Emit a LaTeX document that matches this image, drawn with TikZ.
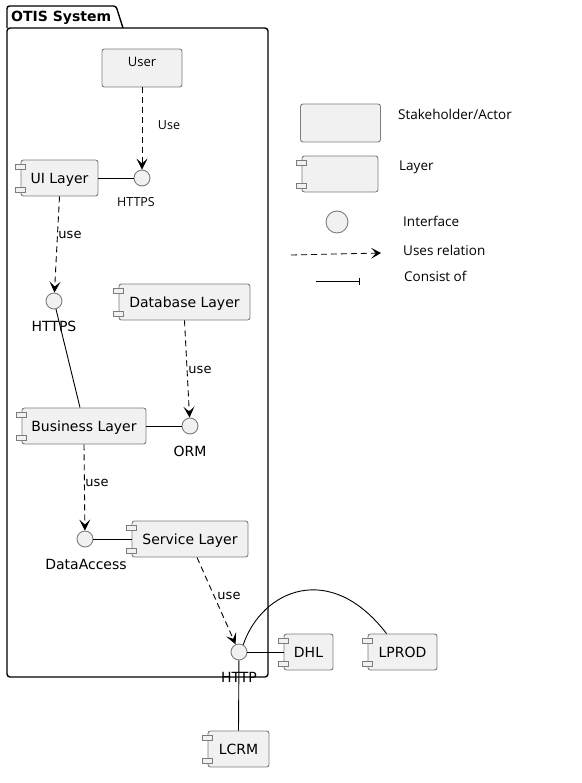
\documentclass[tikz,border=0pt]{standalone}
\usepackage{fontspec}
\setmainfont{DejaVu Sans}
\newfontfamily\legfont{Open Sans}
\usetikzlibrary{arrows.meta,calc}
\definecolor{compfill}{HTML}{F1F1F1}
\definecolor{compdraw}{HTML}{7C7C7C}
\tikzset{
  comp/.style={draw=compdraw, fill=compfill, rounded corners=2.5, line width=0.9, inner sep=0,
    font=\fontsize{14}{16}\selectfont, text height=10.2, text depth=0},
  iface/.style={circle, draw=compdraw, fill=compfill, minimum size=16, inner sep=0, line width=0.9},
  uses/.style={dash pattern=on 6 off 4, line width=0.9, -{Stealth[length=11,width=11,inset=5]}},
  link/.style={line width=0.9},
  lbl/.style={font=\fontsize{13}{15}\selectfont, inner sep=0},
  tlbl/.style={font=\legfont\fontsize{12.5}{14}\selectfont, inner sep=0},
  legtext/.style={font=\legfont\fontsize{13.5}{15}\selectfont, inner sep=0, anchor=west},
  icon/.style={draw=compdraw, fill=compfill, line width=0.8},
}
\newcommand\compicons[1]{%
  \draw[icon] ($(#1.north west)+(-5,5)$) rectangle ++(10,5);
  \draw[icon] ($(#1.south west)+(-5,-4)$) rectangle ++(10,-5);}
\begin{document}
\begin{tikzpicture}[x=1pt,y=-1pt]
\useasboundingbox (0,0) rectangle (581,783);
% package
\draw[line width=1.4, rounded corners=2.5] (7,28) -- (7,6) -- (116,6) -- (123,28);
\draw[line width=1.4, rounded corners=3] (7,28) rectangle (268,677);
\node[font=\bfseries\fontsize{14}{16}\selectfont, anchor=west, inner sep=0] (pkgt) at (11,17.5) {OTIS System};

% components
\node[comp, minimum width=80, minimum height=38, font=\legfont\fontsize{13}{15}\selectfont, text height=9.3] (user) at (142,68) {\raisebox{6pt}{User}};
\node[comp, minimum width=77, minimum height=36] (ui) at (59.5,178) {UI Layer};
\compicons{ui}
\node[comp, minimum width=131, minimum height=36] (db) at (184.5,302) {Database Layer};
\compicons{db}
\node[comp, minimum width=124, minimum height=36] (bl) at (84,426) {Business Layer};
\compicons{bl}
\node[comp, minimum width=116, minimum height=36] (sl) at (190,539) {Service Layer};
\compicons{sl}
\node[comp, minimum width=49, minimum height=36] (dhl) at (308.5,652) {DHL};
\compicons{dhl}
\node[comp, minimum width=69, minimum height=36] (lprod) at (402.5,652) {LPROD};
\compicons{lprod}
\node[comp, minimum width=61, minimum height=36] (lcrm) at (238.5,749) {LCRM};
\compicons{lcrm}

% interfaces
\node[iface] (https1) at (142,178) {};
\node[iface] (https2) at (54,301) {};
\node[iface] (orm) at (190,426) {};
\node[iface] (da) at (85,539) {};
\node[iface] (http) at (239,652) {};

% interface labels
\node[tlbl] (https1l) at (136,202) {HTTPS};
\node[lbl, font=\fontsize{14}{16}\selectfont] (https2l) at (54,326) {HTTPS};
\node[lbl, font=\fontsize{14}{16}\selectfont] (orml) at (190,451) {ORM};
\node[lbl, font=\fontsize{14}{16}\selectfont] (dal) at (86,564) {DataAccess};

% connectors
\draw[uses] (user.south) -- (https1);
\draw[link] (ui.east) -- (https1);
\draw[uses] (ui.south) -- (https2);
\draw[link] (https2) -- ($(bl.north)+(-4,0)$);
\draw[uses] (db.south) -- (orm);
\draw[link] (bl.east) -- (orm);
\draw[uses] (bl.south) -- (da);
\draw[link] (da) -- (sl.west);
\draw[uses] ($(sl.south)+(7,0)$) -- (http);
\draw[link] (http) -- (dhl.west);
\draw[link] (http) -- (lcrm.north);
\draw[link] (http.60) .. controls (262,590) and (330,560) .. ($(lprod.north)+(-16,0)$);

\node[lbl, font=\fontsize{14}{16}\selectfont] (httpl) at (239,677) {HTTP};

% relation labels
\node[tlbl] (usel0) at (169,125) {Use};
\node[lbl] (usel1) at (70,235) {use};
\node[lbl] (usel2) at (200,370) {use};
\node[lbl] (usel3) at (97,483) {use};
\node[lbl] (usel4) at (229,596) {use};

% legend
\node[comp, minimum width=80, minimum height=38] (lact) at (340.5,123) {};
\node[comp, minimum width=76, minimum height=36] (llay) at (340,174) {};
\compicons{llay}
\node[iface, minimum size=22] (lint) at (337,222) {};
\coordinate (u1) at (291,255);
\coordinate (u2) at (381,253);
\draw[dash pattern=on 6 off 4, line width=0.8, -{Stealth[length=10,width=11,inset=5]}] (u1) -- (u2);
\coordinate (c1) at (316,281);
\coordinate (c2) at (359,281);
\draw[line width=0.8] (c1) -- (c2);
\draw[line width=0.8] ($(c2)+(0,-3.5)$) -- ($(c2)+(0,3.5)$);
\node[legtext] (lt1) at (398,114) {Stakeholder/Actor};
\node[legtext] (lt2) at (399,167) {Layer};
\node[legtext] (lt3) at (403,221) {Interface};
\node[legtext] (lt4) at (403,250) {Uses relation};
\node[legtext] (lt5) at (404,276) {Consist of};
\end{tikzpicture}
\end{document}
